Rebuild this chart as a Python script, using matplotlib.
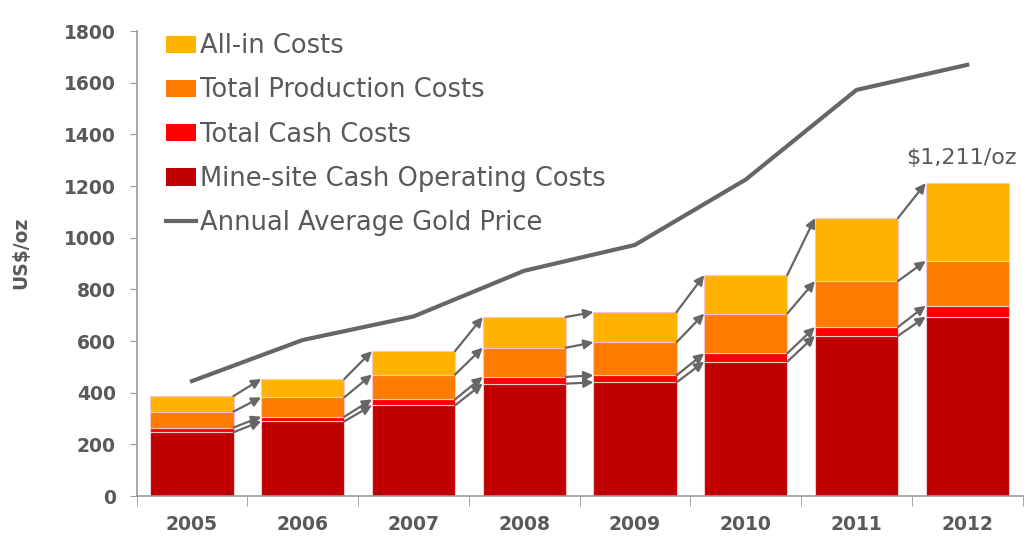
import matplotlib.pyplot as plt
import numpy as np

# data (cumulative cost levels, US$/oz)
years = ['2005', '2006', '2007', '2008', '2009', '2010', '2011', '2012']
mine_site = [247, 289, 351, 435, 440, 520, 620, 694]
total_cash = [265, 307, 374, 461, 467, 552, 654, 737]
total_prod = [327, 382, 470, 574, 595, 706, 832, 910]
all_in = [387, 453, 561, 693, 712, 855, 1076, 1211]
gold_price = [445, 604, 695, 872, 972, 1225, 1572, 1669]

grey = '#595959'
levels = [mine_site, total_cash, total_prod, all_in]
colors = ['#C00000', '#FF0000', '#FF7C00', '#FFB300']
names = ['Mine-site Cash Operating Costs', 'Total Cash Costs',
         'Total Production Costs', 'All-in Costs']

fig = plt.figure(figsize=(10.35, 5.52), dpi=100)
ax = fig.add_axes([0.132, 0.1014, 0.856, 0.8424])

x = np.arange(len(years))
w = 0.75
bottom = np.zeros(len(years))
bars = []
for lev, c, n in zip(levels, colors, names):
    h = np.array(lev) - bottom
    b = ax.bar(x, h, w, bottom=bottom, color=c, edgecolor='#f3c8c8',
               linewidth=0.8, label=n, zorder=2)
    bars.append(b)
    bottom = np.array(lev, dtype=float)

line, = ax.plot(x, gold_price, color='#666666', lw=3, zorder=3,
                label='Annual Average Gold Price')

# arrows linking each cost level year over year
for lev in levels:
    for i in range(len(years) - 1):
        ax.annotate('', xy=(i + 1 - w / 2, lev[i + 1]), xytext=(i + w / 2, lev[i]),
                    arrowprops=dict(arrowstyle='-|>', color='#666666', lw=1.6,
                                    mutation_scale=14, shrinkA=0, shrinkB=0),
                    zorder=4)

ax.text(x[-1] - 0.05, all_in[-1] + 60, '$1,211/oz', ha='center', va='bottom',
        fontsize=16, color=grey)

ax.set_xlim(-0.5, len(years) - 0.5)
ax.set_ylim(0, 1800)
ax.set_yticks(range(0, 1801, 200))
ax.set_xticks(x)
ax.set_xticklabels(years)
ax.set_xticks(np.arange(-0.5, len(years)), minor=True)
ax.tick_params(axis='x', which='major', length=0, pad=14)
ax.tick_params(axis='x', which='minor', length=7, color='#999999')
ax.tick_params(axis='y', length=5, color='#999999', pad=10)
for lab in ax.get_xticklabels() + ax.get_yticklabels():
    lab.set_fontsize(13.5)
    lab.set_fontweight('bold')
    lab.set_color(grey)
ax.set_ylabel('US$/oz', fontsize=13.5, fontweight='bold', color=grey)
ax.yaxis.set_label_coords(-0.12, 0.523)

for s in ['top', 'right']:
    ax.spines[s].set_visible(False)
for s in ['left', 'bottom']:
    ax.spines[s].set_color('#999999')
    ax.spines[s].set_linewidth(1.2)

handles = [bars[3], bars[2], bars[1], bars[0], line]
labels = [names[3], names[2], names[1], names[0], 'Annual Average Gold Price']
leg = ax.legend(handles, labels, loc='upper left', bbox_to_anchor=(0.0075, 1.045),
                frameon=False, fontsize=18.5, labelcolor=grey, handlelength=1.17,
                handleheight=0.66, handletextpad=0.12, labelspacing=0.71)
for p in leg.get_patches():
    p.set_edgecolor('none')

fig.savefig('out.png', dpi=100)
